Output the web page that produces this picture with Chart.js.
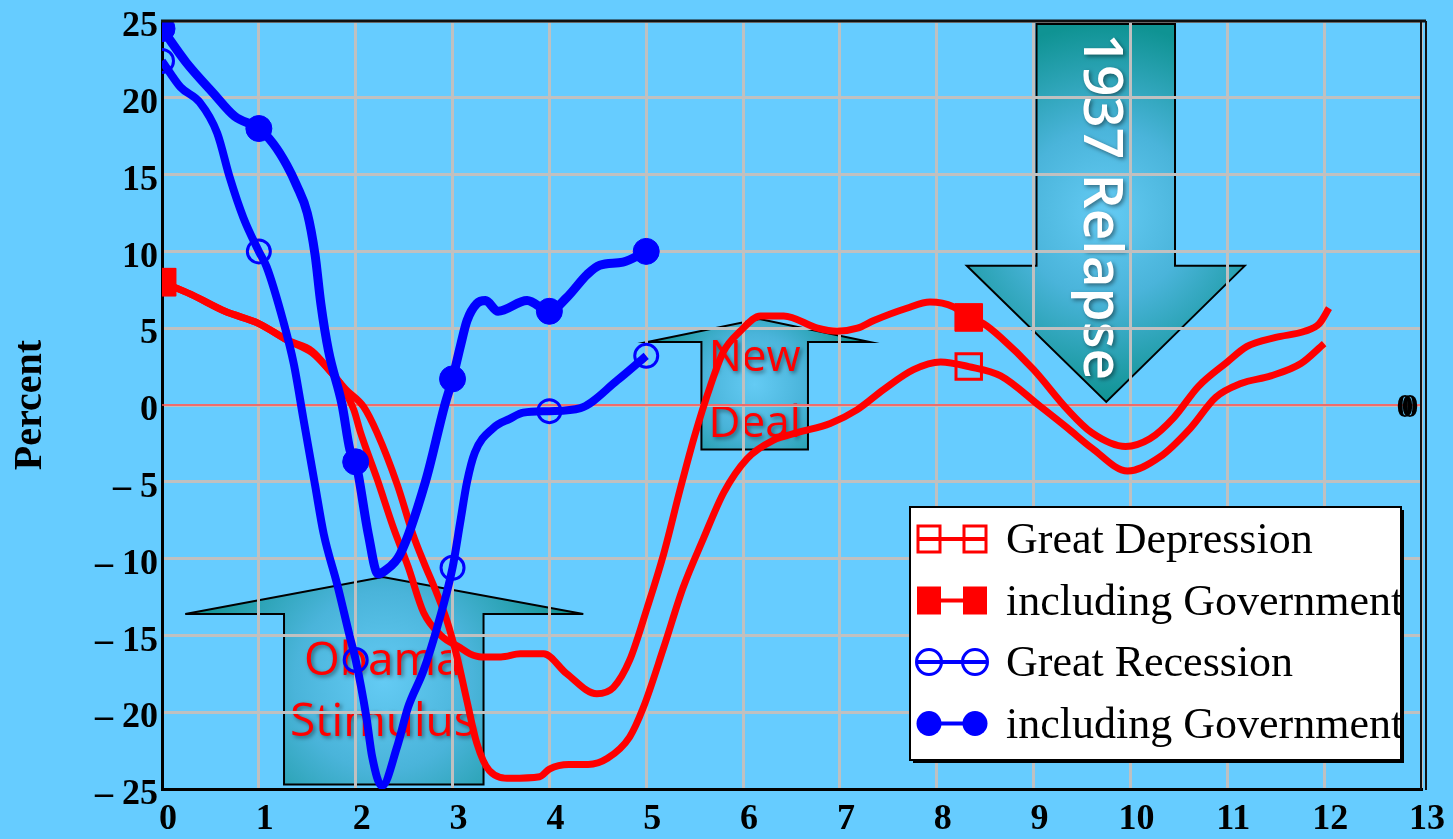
<!DOCTYPE html>
<html>
<head>
<meta charset="utf-8">
<script src="https://cdn.jsdelivr.net/npm/chart.js@4"></script>
<style>
html, body { margin: 0; padding: 0; background: #66ccff; }
</style>
</head>
<body>
<canvas id="chart" width="1453" height="839"></canvas>
<script>
// series labels
const seriesLabels = ['Great Depression', 'including Government', 'Great Recession', 'including Government'];

// Great Depression (years since peak, percent)
const depX = [0, 0.3, 0.65, 1.0, 1.3, 1.55, 1.75, 1.9, 2.08, 2.22, 2.43, 2.59, 2.7, 2.84, 2.94, 3.05, 3.15, 3.25, 3.38, 3.6, 3.9, 4.0, 4.2, 4.4, 4.6, 4.83, 4.97, 5.18, 5.38, 5.59, 5.8, 6.04, 6.31, 6.56, 6.9, 7.18, 7.45, 7.76, 8.04, 8.33, 8.66, 9.07, 9.35, 9.6, 9.97, 10.3, 10.62, 10.88, 11.14, 11.45, 11.76, 12.0];
const depY = [8.0, 7.2, 6.1, 5.3, 4.2, 3.4, 2.1, 1.0, -0.1, -1.8, -5.2, -8.4, -10.2, -12.3, -14.0, -16.5, -19.3, -22.0, -23.8, -24.3, -24.2, -23.7, -23.4, -23.4, -23.0, -21.6, -19.7, -15.8, -11.9, -8.7, -5.7, -3.5, -2.3, -1.8, -1.2, -0.3, 1.0, 2.3, 2.8, 2.5, 1.9, -0.1, -1.5, -2.8, -4.3, -3.4, -1.5, 0.5, 1.4, 1.9, 2.7, 4.0];

// Great Depression including government
const depGovX = [0, 0.3, 0.65, 1.0, 1.3, 1.55, 1.75, 1.84, 1.98, 2.05, 2.22, 2.39, 2.54, 2.7, 2.88, 3.08, 3.18, 3.3, 3.5, 3.7, 3.94, 4.18, 4.49, 4.66, 4.83, 5.01, 5.18, 5.35, 5.5, 5.66, 5.8, 5.97, 6.18, 6.42, 6.77, 6.97, 7.18, 7.35, 7.69, 7.93, 8.17, 8.33, 8.48, 8.66, 9.0, 9.35, 9.6, 9.95, 10.2, 10.45, 10.7, 11.0, 11.2, 11.5, 11.8, 11.95, 12.05];
const depGovY = [8.0, 7.2, 6.1, 5.3, 4.2, 3.5, 2.1, 1.4, -0.3, -1.8, -4.8, -8.0, -10.5, -13.5, -15.0, -15.8, -16.2, -16.4, -16.4, -16.2, -16.2, -17.5, -18.8, -18.4, -16.6, -13.2, -9.7, -5.5, -2.0, 1.2, 3.5, 4.8, 5.8, 5.8, 5.0, 4.8, 5.0, 5.5, 6.3, 6.7, 6.4, 5.7, 5.3, 4.4, 2.3, -0.3, -1.8, -2.7, -2.2, -0.8, 1.2, 2.8, 3.8, 4.4, 4.8, 5.3, 6.3];

// Great Recession
const recX = [0, 0.19, 0.39, 0.57, 0.7, 0.84, 1.0, 1.08, 1.25, 1.36, 1.46, 1.58, 1.67, 1.81, 1.94, 2.0, 2.11, 2.17, 2.27, 2.43, 2.54, 2.7, 2.84, 3.0, 3.08, 3.15, 3.23, 3.42, 3.59, 3.73, 4.0, 4.32, 4.7, 5.0];
const recY = [22.4, 20.7, 19.7, 17.7, 14.8, 12.2, 10.0, 9.0, 5.5, 2.7, -0.9, -5.2, -8.4, -11.7, -15.1, -16.6, -20.3, -22.9, -24.8, -22.2, -19.7, -17.3, -14.5, -10.6, -7.6, -5.0, -3.1, -1.5, -0.9, -0.5, -0.4, -0.2, 1.6, 3.2];

// Great Recession including government
const recGovX = [0, 0.25, 0.53, 0.75, 1.0, 1.15, 1.29, 1.39, 1.5, 1.58, 1.64, 1.72, 1.86, 1.94, 2.0, 2.13, 2.23, 2.3, 2.46, 2.72, 2.92, 3.0, 3.08, 3.15, 3.25, 3.34, 3.47, 3.77, 4.0, 4.18, 4.39, 4.52, 4.76, 5.0];
const recGovY = [24.5, 22.3, 20.3, 18.8, 18.0, 17.0, 15.6, 14.3, 12.5, 9.8, 6.6, 3.5, 0, -2.9, -3.7, -8.4, -11.0, -10.8, -9.7, -5.0, 0, 1.7, 3.8, 5.5, 6.6, 6.8, 6.1, 6.8, 6.1, 7.0, 8.5, 9.1, 9.3, 10.0];

// where the markers sit
const depMarkX = [0, 8.33];
const recMarkX = [0, 1, 2, 3, 4, 5];

// axis ticks
const xTicks = [0, 1, 2, 3, 4, 5, 6, 7, 8, 9, 10, 11, 12, 13];
const yTicks = [-25, -20, -15, -10, -5, 0, 5, 10, 15, 20, 25];

// annotation arrows, in axis units
const arrows = [
    { x0: 1.26, x1: 3.32, hx0: 0.24, hx1: 4.35, tipX: 2.28, tipY: -11.2, base: -13.6, end: -24.7 },
    { x0: 5.57, x1: 6.67, hx0: 5.01, hx1: 7.31, tipX: 6.17, tipY: 5.6, base: 4.1, end: -2.9 },
    { x0: 9.03, x1: 10.46, hx0: 8.31, hx1: 11.18, tipX: 9.75, tipY: 0.2, base: 9.06, end: 24.8 }
];
const arrowTexts = [
    { text: 'Obama', x: 2.28, y: -16.7, color: '#ff0000', size: 46, weight: 'normal', rot: 0 },
    { text: 'Stimulus', x: 2.28, y: -20.7, color: '#ff0000', size: 46, weight: 'normal', rot: 0 },
    { text: 'New', x: 6.12, y: 3.0, color: '#ff0000', size: 44, weight: 'normal', rot: 0 },
    { text: 'Deal', x: 6.12, y: -1.3, color: '#ff0000', size: 44, weight: 'normal', rot: 0 },
    { text: '1937 Relapse', x: 9.68, y: 12.9, color: '#ffffff', size: 55, weight: '600', rot: Math.PI / 2 }
];

const serif = '"Liberation Serif", "Times New Roman", serif';
const sans = '"Open Sans", "Noto Sans", sans-serif';

function pts(xs, ys) {
    return xs.map((x, i) => ({ x: x, y: ys[i] }));
}
function markR(list, r) {
    return ctx => (ctx.raw && list.includes(ctx.raw.x)) ? r : 0;
}

const data = {
    datasets: [
        {
            label: seriesLabels[3],
            data: pts(recGovX, recGovY),
            borderColor: '#0000ff',
            backgroundColor: '#0000ff',
            borderWidth: 9,
            pointStyle: 'circle',
            pointRadius: markR(recMarkX, 13),
            pointBackgroundColor: '#0000ff',
            pointBorderColor: '#0000ff',
            pointBorderWidth: 1,
            mk: 'circle', filled: true
        },
        {
            label: seriesLabels[2],
            data: pts(recX, recY),
            borderColor: '#0000ff',
            backgroundColor: '#0000ff',
            borderWidth: 8,
            pointStyle: 'circle',
            pointRadius: markR(recMarkX, 11.5),
            pointBackgroundColor: 'rgba(0,0,0,0)',
            pointBorderColor: '#0000ff',
            pointBorderWidth: 3,
            mk: 'circle', filled: false
        },
        {
            label: seriesLabels[1],
            data: pts(depGovX, depGovY),
            borderColor: '#ff0000',
            backgroundColor: '#ff0000',
            borderWidth: 7,
            pointStyle: 'rect',
            pointRadius: markR(depMarkX, 19.5),
            pointBackgroundColor: '#ff0000',
            pointBorderColor: '#ff0000',
            pointBorderWidth: 1,
            mk: 'rect', filled: true
        },
        {
            label: seriesLabels[0],
            data: pts(depX, depY),
            borderColor: '#ff0000',
            backgroundColor: '#ff0000',
            borderWidth: 7,
            pointStyle: 'rect',
            pointRadius: markR(depMarkX, 18),
            pointBackgroundColor: 'rgba(0,0,0,0)',
            pointBorderColor: '#ff0000',
            pointBorderWidth: 3,
            mk: 'rect', filled: false
        }
    ]
};

function drawArrow(c, a, xs, ys) {
    const px = v => xs.getPixelForValue(v);
    const py = v => ys.getPixelForValue(v);
    const pts = [
        [px(a.x0), py(a.end)], [px(a.x0), py(a.base)], [px(a.hx0), py(a.base)],
        [px(a.tipX), py(a.tipY)], [px(a.hx1), py(a.base)], [px(a.x1), py(a.base)],
        [px(a.x1), py(a.end)]
    ];
    const minX = px(a.hx0), maxX = px(a.hx1);
    const minY = Math.min(py(a.end), py(a.tipY)), maxY = Math.max(py(a.end), py(a.tipY));
    const cx = (px(a.x0) + px(a.x1)) / 2, cy = (minY + maxY) / 2;
    const r = Math.max(maxX - minX, maxY - minY) / 2;
    const g = c.createRadialGradient(cx, cy, 0, cx, cy, r);
    g.addColorStop(0, '#64cbf4');
    g.addColorStop(0.45, '#4ab4da');
    g.addColorStop(1, '#0f9393');
    c.beginPath();
    pts.forEach((p, i) => i ? c.lineTo(p[0], p[1]) : c.moveTo(p[0], p[1]));
    c.closePath();
    c.fillStyle = g;
    c.fill();
    c.lineWidth = 2;
    c.strokeStyle = '#000';
    c.stroke();
}

function legendMarker(c, ds, x, y) {
    c.lineWidth = 3;
    c.strokeStyle = ds.borderColor;
    c.fillStyle = ds.borderColor;
    if (ds.mk === 'rect') {
        if (ds.filled) c.fillRect(x - 12, y - 14, 24, 28);
        else c.strokeRect(x - 11, y - 13, 22, 26);
    } else {
        c.beginPath();
        c.arc(x, y, 12.5, 0, Math.PI * 2);
        if (ds.filled) c.fill(); else c.stroke();
    }
}

const decor = {
    id: 'decor',
    beforeDraw(chart) {
        const c = chart.ctx;
        const xs = chart.scales.x, ys = chart.scales.y;
        c.save();
        c.fillStyle = '#66ccff';
        c.fillRect(0, 0, chart.width, chart.height);
        arrows.forEach(a => drawArrow(c, a, xs, ys));
        arrowTexts.forEach(t => {
            c.save();
            c.translate(xs.getPixelForValue(t.x), ys.getPixelForValue(t.y));
            c.rotate(t.rot);
            c.font = t.weight + ' ' + t.size + 'px ' + sans;
            c.textAlign = 'center';
            c.textBaseline = 'middle';
            c.shadowColor = 'rgba(0,0,0,0.45)';
            c.shadowBlur = 4;
            c.shadowOffsetX = 2;
            c.shadowOffsetY = 2;
            c.fillStyle = t.color;
            c.fillText(t.text, 0, 0);
            c.restore();
        });
        c.restore();
    },
    beforeDatasetsDraw(chart) {
        const c = chart.ctx, a = chart.chartArea;
        const y0 = chart.scales.y.getPixelForValue(0);
        c.save();
        c.strokeStyle = '#ff5050';
        c.lineWidth = 1.5;
        c.beginPath();
        c.moveTo(a.left, y0);
        c.lineTo(a.right, y0);
        c.stroke();
        c.restore();
    },
    afterDraw(chart) {
        const c = chart.ctx, a = chart.chartArea;
        c.save();
        // frame top and doubled right edge
        c.strokeStyle = '#111';
        c.lineWidth = 3;
        c.beginPath();
        c.moveTo(a.left - 1, a.top);
        c.lineTo(a.right + 5, a.top);
        c.stroke();
        c.lineWidth = 2;
        c.beginPath();
        c.moveTo(a.right, a.top);
        c.lineTo(a.right, a.bottom + 1);
        c.moveTo(a.right + 5, a.top);
        c.lineTo(a.right + 5, a.bottom + 1);
        c.stroke();

        // stray zero label on the right edge
        const y0 = chart.scales.y.getPixelForValue(0);
        c.fillStyle = '#000';
        c.font = 'bold 34px ' + serif;
        c.textAlign = 'center';
        c.textBaseline = 'middle';
        c.fillText('0', a.right - 16, y0 + 3);
        c.fillText('0', a.right - 11, y0 + 3);

        // legend box
        const bx = 910, by = 507, bw = 491, bh = 253;
        c.fillStyle = '#000';
        c.fillRect(bx + 3, by + 3, bw, bh);
        c.fillStyle = '#fff';
        c.fillRect(bx, by, bw, bh);
        c.lineWidth = 2;
        c.strokeStyle = '#000';
        c.strokeRect(bx, by, bw, bh);
        const order = [3, 2, 1, 0];
        order.forEach((di, row) => {
            const ds = chart.data.datasets[di];
            const cy = 539 + row * 61.5;
            c.strokeStyle = ds.borderColor;
            c.lineWidth = 4;
            c.beginPath();
            c.moveTo(918, cy);
            c.lineTo(986, cy);
            c.stroke();
            legendMarker(c, ds, 929, cy);
            legendMarker(c, ds, 975, cy);
            c.fillStyle = '#000';
            c.font = '44px ' + serif;
            c.textAlign = 'left';
            c.textBaseline = 'alphabetic';
            c.fillText(ds.label, 1006, cy + 14);
        });
        c.restore();
    }
};

const tickFont = { family: serif, size: 36, weight: 'bold' };

const config = {
    type: 'line',
    data: data,
    options: {
        responsive: false,
        animation: false,
        events: [],
        layout: { padding: { top: 14, right: 32, left: 0, bottom: 0 } },
        elements: {
            line: { cubicInterpolationMode: 'monotone', fill: false }
        },
        plugins: {
            legend: { display: false },
            tooltip: { enabled: false }
        },
        scales: {
            x: {
                type: 'linear',
                min: 0,
                max: 13,
                afterBuildTicks: s => { s.ticks = xTicks.map(v => ({ value: v })); },
                afterFit: s => { s.height = 50; s.paddingLeft = 0; s.paddingRight = 0; },
                grid: { color: '#c0c0c0', lineWidth: 3, drawTicks: false },
                border: { color: '#000', width: 3 },
                ticks: { color: '#000', font: tickFont, padding: 9, labelOffset: 6, maxRotation: 0, autoSkip: false }
            },
            y: {
                min: -25,
                max: 25,
                afterBuildTicks: s => { s.ticks = yTicks.map(v => ({ value: v })); },
                afterFit: s => { s.width = 162; s.paddingTop = 0; s.paddingBottom = 0; },
                grid: { color: '#c0c0c0', lineWidth: 3, drawTicks: false },
                border: { color: '#000', width: 3 },
                ticks: {
                    color: '#000',
                    font: tickFont,
                    padding: 4,
                    labelOffset: 6,
                    callback: v => v < 0 ? '\u2013 ' + (-v) : String(v)
                },
                title: {
                    display: true,
                    text: 'Percent',
                    color: '#000',
                    font: { family: serif, size: 40, weight: 'bold' },
                    padding: { top: 7, bottom: 0 }
                }
            }
        }
    },
    plugins: [decor]
};

var chart = new Chart(document.getElementById('chart'), config);
</script>
</body>
</html>
